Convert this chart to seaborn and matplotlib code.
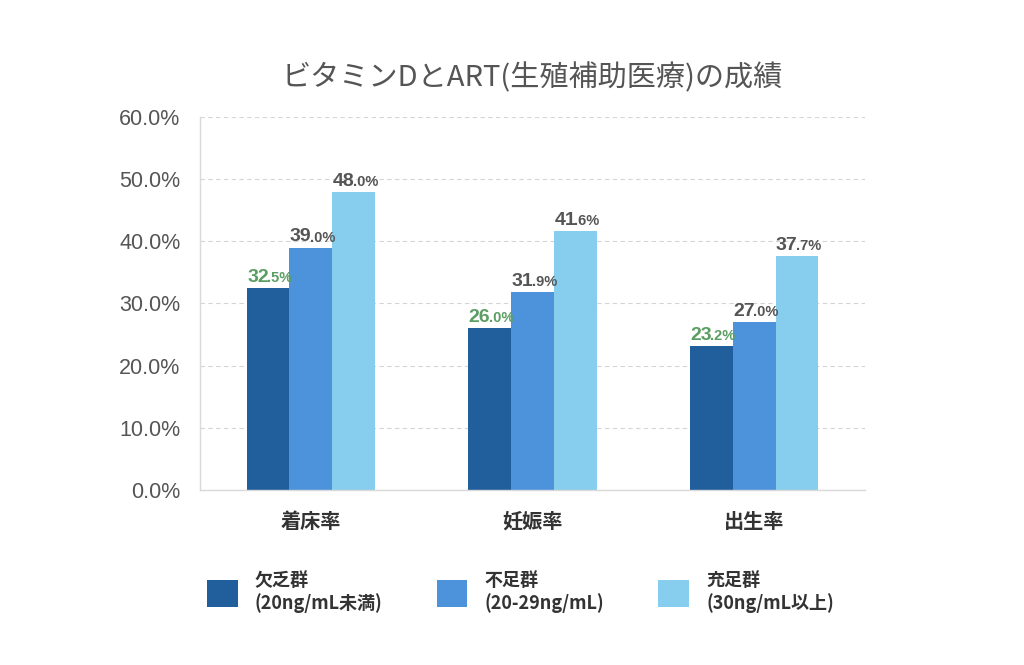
import matplotlib
matplotlib.use("Agg")
import matplotlib.pyplot as plt
import seaborn as sns
import pandas as pd
from matplotlib.patches import Patch

categories = ["着床率", "妊娠率", "出生率"]
groups = ["欠乏群\n(20ng/mL未満)", "不足群\n(20-29ng/mL)", "充足群\n(30ng/mL以上)"]
deficient = [32.5, 26.0, 23.2]
insufficient = [39.0, 31.9, 27.0]
sufficient = [48.0, 41.6, 37.7]
colors = ["#215E9C", "#4C93DC", "#87CDED"]
title = "ビタミンDとART(生殖補助医療)の成績"

rows = []
for g, vals in zip(groups, [deficient, insufficient, sufficient]):
    for c, v in zip(categories, vals):
        rows.append({"cat": c, "group": g, "value": v})
df = pd.DataFrame(rows)

sns.set_theme(style="white")
plt.rcParams["font.family"] = ["Noto Sans CJK JP", "DejaVu Sans"]

fig = plt.figure(figsize=(10.24, 6.65), dpi=100)
ax = fig.add_axes([200/1024, 1-490/665, 665/1024, 373/665])

sns.barplot(data=df, x="cat", y="value", hue="group", order=categories,
            hue_order=groups, palette=colors, width=0.58, gap=0,
            saturation=1, ax=ax, legend=False, errorbar=None, linewidth=0)

ax.set_ylim(0, 60)
ax.set_xlim(-0.5, 2.5)
ax.set_yticks(range(0, 61, 10))
ax.set_yticklabels([f"{t:.1f}%" for t in range(0, 61, 10)],
                   fontfamily="Liberation Sans", fontsize=15.5, color="#555555")
ax.set_xticks(range(3))
ax.set_xticklabels(categories, fontsize=14.5, fontweight="bold", color="#333333")
ax.tick_params(axis="x", length=0, pad=15)
ax.tick_params(axis="y", length=0, pad=14)
ax.set_xlabel("")
ax.set_ylabel("")
ax.yaxis.grid(True, color="#d5d5d5", linestyle=(0, (4, 3)), linewidth=0.8)
ax.set_axisbelow(True)
for s in ["top", "right"]:
    ax.spines[s].set_visible(False)
for s in ["left", "bottom"]:
    ax.spines[s].set_color("#d9d9d9")
    ax.spines[s].set_linewidth(1.0)

ax.set_title(title, fontsize=21, color="#555555", pad=22)

# value labels
label_colors = ["#5B9E63", "#555555", "#555555"]
for i, cont in enumerate(ax.containers):
    for bar in cont:
        h = bar.get_height()
        xc = bar.get_x() + bar.get_width() / 2
        s = f"{h:.1f}"
        ip, dp = s.split(".")
        t1 = ax.annotate(ip, xy=(xc, h), xytext=(0.5, 1.5), textcoords="offset points",
                         ha="right", va="bottom", fontsize=14, fontweight="bold",
                         color=label_colors[i], fontfamily="Liberation Sans")
        ax.annotate("." + dp + "%", xy=(1, 0), xycoords=t1, xytext=(-1.2, 0.6),
                    textcoords="offset points", ha="left", va="bottom",
                    fontsize=10.5, fontweight="bold", color=label_colors[i],
                    fontfamily="Liberation Sans")

handles = [Patch(facecolor=c, edgecolor="none") for c in colors]
leg = fig.legend(handles, groups, loc="center left", bbox_to_anchor=(207/1024, 1-592/665),
                 ncol=3, frameon=False, handlelength=1.7, handleheight=1.95,
                 handletextpad=0.95, columnspacing=3.0, borderpad=0, borderaxespad=0,
                 prop={"family": ["Noto Sans CJK JP", "DejaVu Sans"], "weight": "bold", "size": 13})
for t in leg.get_texts():
    t.set_color("#333333")
    t.set_linespacing(1.25)

fig.savefig("out.png", dpi=100, facecolor="white")
